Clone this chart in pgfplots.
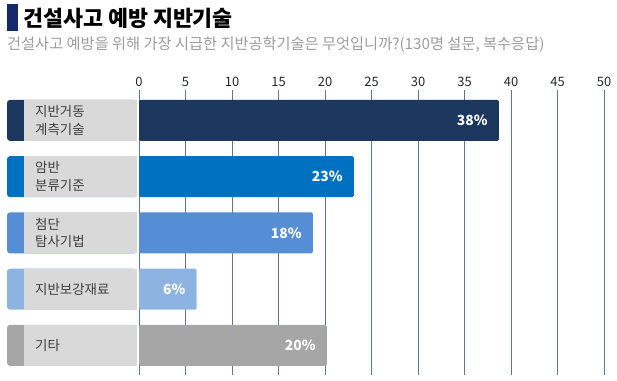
\documentclass[border=0pt]{standalone}
\usepackage{pgfplots}
\pgfplotsset{compat=1.18}
\usepackage{fontspec}
\setmainfont{Noto Sans CJK KR}
\definecolor{titlenavy}{HTML}{13296A}
\definecolor{subgray}{HTML}{9C9C9C}
\definecolor{cA}{HTML}{1C375E}
\definecolor{cB}{HTML}{0070C0}
\definecolor{cC}{HTML}{558ED5}
\definecolor{cD}{HTML}{8DB3E2}
\definecolor{cE}{HTML}{A6A6A6}
\definecolor{boxgray}{HTML}{D9D9D9}
\definecolor{labtext}{HTML}{3F3F3F}
\definecolor{gridc}{HTML}{5B7792}
\begin{document}
\begin{tikzpicture}
\useasboundingbox (0,0) rectangle (617bp,-381bp);
\fill[titlenavy] (7bp,-4bp) rectangle (18bp,-31bp);
\node[anchor=west, inner sep=0pt, font=\fontsize{21.8}{26}\selectfont\bfseries] at (23bp,-18.5bp) {건설사고 예방 지반기술};
\node[anchor=west, inner sep=0pt, text=subgray, font=\fontsize{15.3}{18}\selectfont] at (7bp,-45bp) {건설사고 예방을 위해 가장 시급한 지반공학기술은 무엇입니까?(130명 설문, 복수응답)};
\begin{axis}[
  at={(139bp,-90bp)}, anchor=north west,
  scale only axis, width=465bp, height=285.2bp,
  xmin=0, xmax=50, ymin=-0.54, ymax=4.53, y dir=reverse,
  xtick={0,5,...,50}, xticklabel pos=upper, ytick=\empty,
  xmajorgrids, grid style={gridc, line width=0.8bp},
  axis line style={draw=none}, major tick length=0pt,
  /pgf/number format/assume math mode=true,
  xticklabel style={font=\fontsize{13}{15}\selectfont, text=black!85, inner sep=3bp},
  xbar, bar width=0.729, bar shift=0pt, clip=false,
  every node near coord/.append style={anchor=east, xshift=-11bp, inner sep=0pt, text=white, font=\fontsize{14}{16}\selectfont\bfseries},
]
% label boxes
\fill[cA, rounded corners=3bp] (axis cs:-14.19,-0.3645) rectangle (axis cs:-0.22,0.3645);
\fill[cB, rounded corners=3bp] (axis cs:-14.19,0.6355) rectangle (axis cs:-0.22,1.3645);
\fill[cC, rounded corners=3bp] (axis cs:-14.19,1.6355) rectangle (axis cs:-0.22,2.3645);
\fill[cD, rounded corners=3bp] (axis cs:-14.19,2.6355) rectangle (axis cs:-0.22,3.3645);
\fill[cE, rounded corners=3bp] (axis cs:-14.19,3.6355) rectangle (axis cs:-0.22,4.3645);
\fill[boxgray] (axis cs:-12.37,-0.3645) rectangle (axis cs:-0.22,0.3645);
\fill[boxgray] (axis cs:-12.37,0.6355) rectangle (axis cs:-0.22,1.3645);
\fill[boxgray] (axis cs:-12.37,1.6355) rectangle (axis cs:-0.22,2.3645);
\fill[boxgray] (axis cs:-12.37,2.6355) rectangle (axis cs:-0.22,3.3645);
\fill[boxgray] (axis cs:-12.37,3.6355) rectangle (axis cs:-0.22,4.3645);
\node[anchor=west, align=left, inner sep=0pt, text=labtext, font=\fontsize{13.5}{17.7}\selectfont] at (axis cs:-11.18,0) {지반거동\\계측기술};
\node[anchor=west, align=left, inner sep=0pt, text=labtext, font=\fontsize{13.5}{17.7}\selectfont] at (axis cs:-11.18,1) {암반\\분류기준};
\node[anchor=west, align=left, inner sep=0pt, text=labtext, font=\fontsize{13.5}{17.7}\selectfont] at (axis cs:-11.18,2) {첨단\\탐사기법};
\node[anchor=west, align=left, inner sep=0pt, text=labtext, font=\fontsize{13.5}{17.7}\selectfont] at (axis cs:-11.18,3) {지반보강재료};
\node[anchor=west, align=left, inner sep=0pt, text=labtext, font=\fontsize{13.5}{17.7}\selectfont] at (axis cs:-11.18,4) {기타};
% bars
\addplot[fill=cA, draw=none, rounded corners=1.5bp, nodes near coords={38\%}] coordinates {(38.7,0)};
\addplot[fill=cB, draw=none, rounded corners=1.5bp, nodes near coords={23\%}] coordinates {(23.1,1)};
\addplot[fill=cC, draw=none, rounded corners=1.5bp, nodes near coords={18\%}] coordinates {(18.7,2)};
\addplot[fill=cD, draw=none, rounded corners=1.5bp, nodes near coords={6\%}] coordinates {(6.2,3)};
\addplot[fill=cE, draw=none, rounded corners=1.5bp, nodes near coords={20\%}] coordinates {(20.2,4)};
\end{axis}
\end{tikzpicture}
\end{document}
